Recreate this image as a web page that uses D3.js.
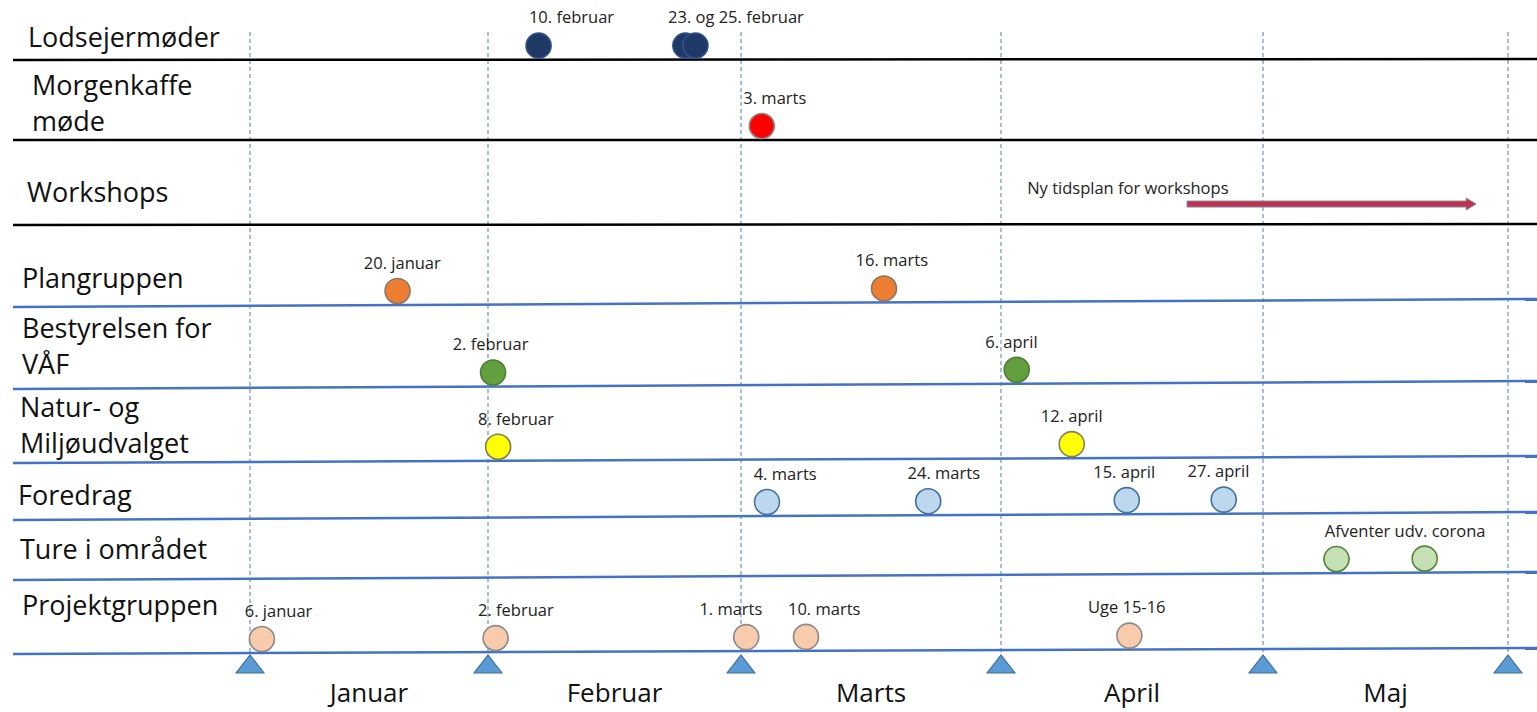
<!DOCTYPE html>
<html>
<head>
<meta charset="utf-8">
<script src="https://cdn.jsdelivr.net/npm/d3@7"></script>
<style>
  body { margin: 0; background: #fff; }
  svg { display: block; font-family: "Open Sans", sans-serif; }
</style>
</head>
<body>
<svg width="1537" height="712"></svg>
<script>
// time axis in months: 0 = 1. januar, 1 = 1. februar, ...
const months = ["Januar", "Februar", "Marts", "April", "Maj"];
const monthStarts = [0, 1, 2, 3, 4, 5];

const rowLabels = [
  ["Lodsejermøder"],
  ["Morgenkaffe", "møde"],
  ["Workshops"],
  ["Plangruppen"],
  ["Bestyrelsen for", "VÅF"],
  ["Natur- og", "Miljøudvalget"],
  ["Foredrag"],
  ["Ture i området"],
  ["Projektgruppen"]
];

// meetings: row index, where the dots sit (months), label and where the label sits (months)
const meetings = [
  {row: 0, at: [1.20], text: "10. februar", textAt: 1.33},
  {row: 0, at: [1.78, 1.82], text: "23. og 25. februar", textAt: 1.98},
  {row: 1, at: [2.08], text: "3. marts", textAt: 2.13},
  {row: 3, at: [0.62], text: "20. januar", textAt: 0.64},
  {row: 3, at: [2.55], text: "16. marts", textAt: 2.58},
  {row: 4, at: [1.02], text: "2. februar", textAt: 1.01},
  {row: 4, at: [3.06], text: "6. april", textAt: 3.04},
  {row: 5, at: [1.04], text: "8. februar", textAt: 1.11},
  {row: 5, at: [3.27], text: "12. april", textAt: 3.27},
  {row: 6, at: [2.10], text: "4. marts", textAt: 2.17},
  {row: 6, at: [2.72], text: "24. marts", textAt: 2.78},
  {row: 6, at: [3.48], text: "15. april", textAt: 3.47},
  {row: 6, at: [3.85], text: "27. april", textAt: 3.83},
  {row: 7, at: [4.30, 4.66], text: "Afventer udv. corona", textAt: 4.58},
  {row: 8, at: [0.05], text: "6. januar", textAt: 0.12},
  {row: 8, at: [1.03], text: "2. februar", textAt: 1.11},
  {row: 8, at: [2.02], text: "1. marts", textAt: 1.96},
  {row: 8, at: [2.25], text: "10. marts", textAt: 2.32},
  {row: 8, at: [3.49], text: "Uge 15-16", textAt: 3.48}
];

// postponed period for the workshops
const spans = [
  {row: 2, from: 3.71, to: 4.87, text: "Ny tidsplan for workshops", textAt: 3.10}
];

// ---- layout / style ----
const svg = d3.select("svg");
const x = d3.scaleLinear().domain(monthStarts).range([250, 488, 741, 1001, 1263, 1508]);

const lineLeft = [60, 140, 225, 307, 389, 463, 520, 580, 654];
const lineRight = [59, 140, 224, 299, 381, 456, 512, 572, 648];
const lineAt = (i, px) => d3.scaleLinear().domain([13, 1537]).range([lineLeft[i], lineRight[i]])(px);
const labelX = [28, 32, 27, 22, 22, 20, 18, 20, 22];
const labelY = [38, 86, 193, 279, 329, 408, 496, 550, 606];

const dotFill = ["#1f3864", "#ff0000", "#c0304f", "#ed7d31", "#62a03f", "#ffff00", "#bdd7ee", "#c5e0b4", "#f8cbad"];
const dotStroke = ["#2f528f", "#8a8a8a", "#8a8a8a", "#8a7766", "#507e32", "#7f7f5f", "#41719c", "#548235", "#8a8a8a"];

// dashed month boundaries
svg.append("g").selectAll("line")
  .data(monthStarts)
  .join("line")
  .attr("x1", d => x(d)).attr("x2", d => x(d))
  .attr("y1", 32).attr("y2", 655)
  .attr("stroke", "#6a93c6")
  .attr("stroke-width", 1.2)
  .attr("stroke-dasharray", "4,3");

// row separators
svg.append("g").selectAll("line")
  .data(rowLabels)
  .join("line")
  .attr("x1", 13).attr("x2", 1537)
  .attr("y1", (d, i) => lineLeft[i]).attr("y2", (d, i) => lineRight[i])
  .attr("stroke", (d, i) => i < 3 ? "#000" : "#4472c4")
  .attr("stroke-width", 2.5);

// row labels
svg.append("g").selectAll("text")
  .data(rowLabels)
  .join("text")
  .attr("x", (d, i) => labelX[i])
  .attr("y", (d, i) => labelY[i])
  .attr("font-size", 27)
  .attr("fill", "#111")
  .selectAll("tspan")
  .data(d => d)
  .join("tspan")
  .attr("x", function() { return this.parentNode.getAttribute("x"); })
  .attr("dy", (d, j) => j === 0 ? "0.35em" : 36)
  .text(d => d);

// meeting dots and labels
const r = 12.5;
const dots = meetings.flatMap(m => m.at.map(a => ({row: m.row, at: a})));
svg.append("g").selectAll("circle")
  .data(dots)
  .join("circle")
  .attr("cx", d => x(d.at))
  .attr("cy", d => lineAt(d.row, x(d.at)) - 14)
  .attr("r", r)
  .attr("fill", d => dotFill[d.row])
  .attr("stroke", d => dotStroke[d.row])
  .attr("stroke-width", 1.6);

svg.append("g").selectAll("text")
  .data(meetings)
  .join("text")
  .attr("x", d => x(d.textAt))
  .attr("y", d => lineAt(d.row, x(d.at[0])) - 14 - 28)
  .attr("dy", "0.35em")
  .attr("text-anchor", "middle")
  .attr("font-size", 16.5)
  .attr("fill", "#222")
  .text(d => d.text);

// workshop arrow
spans.forEach(s => {
  const x0 = x(s.from), x1 = x(s.to);
  const y = lineAt(s.row, x1) - 20;
  const head = 10;
  const pts = [[x0, y - 3], [x1 - head, y - 3], [x1 - head, y - 6], [x1, y], [x1 - head, y + 6], [x1 - head, y + 3], [x0, y + 3]];
  svg.append("path")
    .attr("d", d3.line()(pts) + "Z")
    .attr("fill", dotFill[s.row])
    .attr("stroke", "#7f8fa6")
    .attr("stroke-width", 1);
  svg.append("text")
    .attr("x", x(s.textAt))
    .attr("y", y - 16)
    .attr("dy", "0.35em")
    .attr("font-size", 16.5)
    .attr("fill", "#222")
    .text(s.text);
});

// month markers and names
svg.append("g").selectAll("path")
  .data(monthStarts)
  .join("path")
  .attr("d", d3.symbol(d3.symbolTriangle, 339))
  .attr("transform", d => `translate(${x(d)},667) scale(1,0.75)`)
  .attr("fill", "#5b9bd5")
  .attr("stroke", "#41719c")
  .attr("stroke-width", 1.3);

svg.append("g").selectAll("text")
  .data(months)
  .join("text")
  .attr("x", (d, i) => x(i + 0.5))
  .attr("y", 693)
  .attr("dy", "0.35em")
  .attr("text-anchor", "middle")
  .attr("font-size", 26)
  .attr("fill", "#111")
  .text(d => d);
</script>
</body>
</html>
